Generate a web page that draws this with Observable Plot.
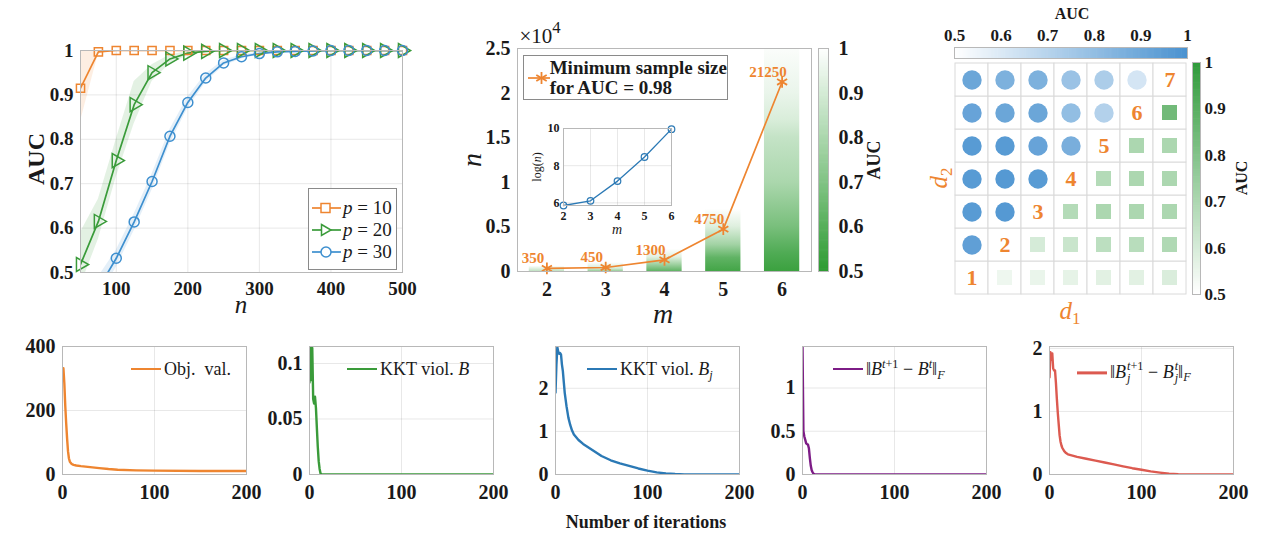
<!DOCTYPE html>
<html>
<head>
<meta charset="utf-8">
<script src="https://cdn.jsdelivr.net/npm/d3@7"></script>
<script src="https://cdn.jsdelivr.net/npm/@observablehq/plot@0.6"></script>
<style>
  body { margin: 0; background: #fff; }
  #fig { position: relative; width: 1270px; height: 544px; overflow: hidden; background: #fff; font-family: "Liberation Serif", "Times New Roman", Times, "DejaVu Serif", serif; color: #1a1a1a; }
  #fig svg { position: absolute; }
  .lbl { position: absolute; white-space: nowrap; font-family: "Liberation Serif", "Times New Roman", Times, "DejaVu Serif", serif; line-height: 1; color: #1a1a1a; }
  .leg { position: absolute; background: #fff; border: 1px solid #8a8a8a; box-sizing: border-box; font-family: "Liberation Serif", "Times New Roman", Times, "DejaVu Serif", serif; color: #1a1a1a; }
  .row { display: flex; align-items: center; white-space: nowrap; }
  .ss { display: inline-flex; flex-direction: column; font-size: 0.68em; line-height: 0.95; vertical-align: 0.6em; margin-left: 1px; }
  sup, sub { font-size: 0.68em; line-height: 0; }
  .sw { display: inline-block; height: 2.6px; margin-right: 3px; }
</style>
</head>
<body>
<div id="fig"></div>
<script>
// ---------- (a) AUC against sample size n ----------
const nGrid  = [50, 75, 100, 125, 150, 175, 200, 225, 250, 275, 300, 325, 350, 375, 400, 425, 450, 475, 500];
const aucP10 = [0.915, 0.997, 1, 1, 1, 1, 1, 1, 1, 1, 1, 1, 1, 1, 1, 1, 1, 1, 1];
const loP10  = [0.84, 0.992, 1, 1, 1, 1, 1, 1, 1, 1, 1, 1, 1, 1, 1, 1, 1, 1, 1];
const hiP10  = [1, 1, 1, 1, 1, 1, 1, 1, 1, 1, 1, 1, 1, 1, 1, 1, 1, 1, 1];
const aucP20 = [0.518, 0.615, 0.752, 0.878, 0.950, 0.981, 0.994, 0.998, 1, 1, 1, 1, 1, 1, 1, 1, 1, 1, 1];
const loP20  = [0.47, 0.575, 0.715, 0.835, 0.93, 0.97, 0.988, 0.996, 1, 1, 1, 1, 1, 1, 1, 1, 1, 1, 1];
const hiP20  = [0.59, 0.665, 0.80, 0.93, 0.968, 0.99, 0.998, 1, 1, 1, 1, 1, 1, 1, 1, 1, 1, 1, 1];
const aucP30 = [0.40, 0.464, 0.532, 0.614, 0.705, 0.807, 0.883, 0.938, 0.972, 0.986, 0.993, 0.997, 0.998, 0.999, 1, 1, 1, 1, 1];
const loP30  = [0.37, 0.44, 0.512, 0.594, 0.686, 0.79, 0.87, 0.928, 0.965, 0.981, 0.99, 0.995, 0.997, 0.998, 1, 1, 1, 1, 1];
const hiP30  = [0.43, 0.49, 0.55, 0.632, 0.722, 0.822, 0.895, 0.947, 0.978, 0.99, 0.996, 0.999, 1, 1, 1, 1, 1, 1, 1];
const aucTicks = [0.5, 0.6, 0.7, 0.8, 0.9, 1];

// ---------- (b) minimum sample size for AUC = 0.98 ----------
const mDims = [2, 3, 4, 5, 6];
const minN  = [350, 450, 1300, 4750, 21250];
// AUC along n inside each bar (n levels and AUC at those levels)
const barN2 = [0, 600],                 barAUC2 = [0.85, 1];
const barN3 = [0, 300, 1000],           barAUC3 = [0.75, 0.9, 1];
const barN4 = [0, 800, 1600, 2500],     barAUC4 = [0.62, 0.78, 0.93, 1];
const barN5 = [0, 1500, 3000, 5000, 7000], barAUC5 = [0.55, 0.62, 0.78, 0.92, 1];
const barN6 = [0, 2000, 5000, 10000, 15000, 17000, 20000, 25000];
const barAUC6 = [0.53, 0.58, 0.68, 0.8, 0.86, 0.91, 0.95, 0.99];
const nTicks = [0, 5000, 10000, 15000, 20000, 25000];

// ---------- (c) AUC over (d1, d2) ----------
const dims = [1, 2, 3, 4, 5, 6, 7];
// rows d2 = 7 (top) ... 1 (bottom); columns d1 = 1 ... 7
const aucUpper = [
  [0.91, 0.86, 0.86, 0.78, 0.73, 0.62, null],
  [0.92, 0.91, 0.91, 0.80, 0.71, null, null],
  [0.96, 0.96, 0.92, 0.87, null, null, null],
  [0.96, 0.97, 0.96, null, null, null, null],
  [0.96, 0.97, null, null, null, null, null],
  [0.94, null, null, null, null, null, null],
  [null, null, null, null, null, null, null]
];
const aucLower = [
  [null, null, null, null, null, null, null],
  [null, null, null, null, null, null, 0.84],
  [null, null, null, null, null, 0.70, 0.70],
  [null, null, null, null, 0.68, 0.70, 0.70],
  [null, null, null, 0.68, 0.70, 0.70, 0.70],
  [null, null, 0.60, 0.63, 0.66, 0.67, 0.69],
  [null, 0.54, 0.55, 0.56, 0.57, 0.57, 0.59]
];

// ---------- (d) convergence over iterations ----------
const objIter = [1, 2, 3, 4, 5, 6, 7, 8, 10, 12, 15, 20, 30, 40, 50, 60, 80, 100, 150, 200];
const objVal  = [332, 285, 215, 160, 112, 72, 50, 40, 33, 30, 28, 26, 23, 20, 17, 15, 13, 12, 11, 11];
const kktBIter = [0, 1, 2, 3, 4, 5, 6, 7, 8, 9, 10, 11, 12, 13, 200];
const kktBVal  = [0.083, 0.115, 0.085, 0.114, 0.068, 0.064, 0.07, 0.06, 0.042, 0.025, 0.012, 0.005, 0.001, 0, 0];
const kktBjIter = [0, 1, 2, 3, 4, 5, 6, 7, 8, 9, 10, 12, 14, 16, 18, 20, 25, 30, 40, 50, 60, 70, 80, 90, 100, 110, 120, 130, 140, 200];
const kktBjVal  = [1.9, 2.55, 2.95, 2.85, 2.8, 2.82, 2.78, 2.55, 2.4, 2.15, 1.9, 1.58, 1.32, 1.15, 1.02, 0.93, 0.8, 0.71, 0.57, 0.43, 0.33, 0.26, 0.2, 0.14, 0.09, 0.05, 0.025, 0.01, 0.002, 0];
const dBIter = [0, 1, 2, 3, 4, 5, 6, 7, 8, 9, 10, 11, 12, 13, 14, 200];
const dBVal  = [1.48, 0.5, 0.44, 0.4, 0.36, 0.35, 0.345, 0.3, 0.19, 0.1, 0.05, 0.025, 0.01, 0.002, 0, 0];
const dBjIter = [0, 1, 2, 3, 4, 5, 6, 7, 8, 9, 10, 11, 12, 13, 14, 16, 18, 20, 25, 30, 40, 50, 60, 70, 80, 90, 100, 110, 120, 130, 140, 150, 200];
const dBjVal  = [1.54, 1.94, 1.82, 1.92, 1.68, 1.65, 1.65, 1.45, 1.2, 0.98, 0.8, 0.62, 0.52, 0.46, 0.42, 0.37, 0.34, 0.32, 0.3, 0.28, 0.25, 0.22, 0.19, 0.16, 0.13, 0.1, 0.075, 0.05, 0.03, 0.012, 0.003, 0, 0];
const iterTicks = [0, 100, 200];

// ---------- colours and type ----------
const ORANGE = "#EE8530", GREEN = "#3A9B3A", BLUE = "#3D8FCF";
const BAR_GREEN = "#2E9B33", MAP_GREEN = "#2F9A3A", MAP_BLUE = "#4A92D0";
const CURVE_BLUE = "#2B79B5", PURPLE = "#7D1C86", RED = "#DC5A50";
const FRAME = "#b8b8b8";
const SERIF = `"Liberation Serif", "Times New Roman", Times, "DejaVu Serif", serif`;

const fig = document.getElementById("fig");
function put(svg, left, top) {
  svg.style.left = left + "px";
  svg.style.top = top + "px";
  fig.appendChild(svg);
  return svg;
}
function label(html, x, y, css = "", rotate = 0) {
  const d = document.createElement("div");
  d.className = "lbl";
  d.innerHTML = html;
  d.style.cssText += css;
  d.style.left = x + "px";
  d.style.top = y + "px";
  d.style.transform = `translate(-50%, -50%) rotate(${rotate}deg)`;
  fig.appendChild(d);
  return d;
}
const axisStyle = (size) => ({
  fontFamily: SERIF, fontSize: size + "px", fontWeight: "bold",
  color: "#1a1a1a", background: "transparent", overflow: "visible"
});

// ===== (a) =====
const seriesA = [
  {name: "10", auc: aucP10, lo: loP10, hi: hiP10, color: ORANGE, symbol: "square", rotate: 0, r: 4.6},
  {name: "20", auc: aucP20, lo: loP20, hi: hiP20, color: GREEN, symbol: "triangle", rotate: 90, r: 5.2},
  {name: "30", auc: aucP30, lo: loP30, hi: hiP30, color: BLUE, symbol: "circle", rotate: 0, r: 5}
].map(s => ({...s, rows: nGrid.map((n, i) => ({n, v: s.auc[i], lo: s.lo[i], hi: s.hi[i]}))}));

put(Plot.plot({
  width: 420, height: 330, marginLeft: 80, marginRight: 18, marginTop: 50, marginBottom: 58,
  style: axisStyle(19),
  x: {domain: [50, 500], ticks: [100, 200, 300, 400, 500], tickFormat: String, grid: true, tickSize: 0, tickPadding: 9, label: null},
  y: {domain: [0.5, 1], ticks: aucTicks, tickFormat: String, grid: true, tickSize: 0, tickPadding: 7, label: null},
  marks: [
    ...seriesA.map(s => Plot.areaY(s.rows, {x: "n", y1: "lo", y2: "hi", fill: s.color, fillOpacity: 0.14, clip: true})),
    ...seriesA.map(s => Plot.line(s.rows, {x: "n", y: "v", stroke: s.color, strokeWidth: 1.7, clip: true})),
    ...seriesA.map(s => Plot.dot(s.rows.filter(d => d.v >= 0.5), {x: "n", y: "v", symbol: s.symbol, rotate: s.rotate, r: s.r, stroke: s.color, strokeWidth: 1.5, fill: "none"})),
    Plot.frame({stroke: FRAME})
  ]
}), 0, 0);

label("AUC", 36, 159, "font-size:24px;font-weight:bold;", -90);
label("<i>n</i>", 241, 304, "font-size:25px;");

const legA = document.createElement("div");
legA.className = "leg";
legA.style.cssText += "left:308px;top:188px;width:89px;height:82px;padding-top:8px;font-size:19px;";
legA.innerHTML = seriesA.map(s => {
  const mk = s.symbol === "square"
    ? `<rect x="10" y="5.5" width="9" height="9" fill="white" stroke="${s.color}" stroke-width="1.5"/>`
    : s.symbol === "triangle"
      ? `<path d="M10.5,4.5 L20,10 L10.5,15.5 Z" fill="white" stroke="${s.color}" stroke-width="1.5"/>`
      : `<circle cx="15" cy="10" r="5" fill="white" stroke="${s.color}" stroke-width="1.5"/>`;
  return `<div class="row" style="height:22px;"><svg width="32" height="20" style="position:static;margin-left:2px;"><line x1="1" x2="30" y1="10" y2="10" stroke="${s.color}" stroke-width="1.7"/>${mk}</svg><span><i>p</i> = ${s.name}</span></div>`;
}).join("");
fig.appendChild(legA);

// ===== (b) =====
const barN = [barN2, barN3, barN4, barN5, barN6];
const barAUC = [barAUC2, barAUC3, barAUC4, barAUC5, barAUC6];
const rampB = Plot.scale({color: {type: "linear", domain: [0.5, 1], range: [BAR_GREEN, "white"]}});
const bars = mDims.map((m, i) => ({m, top: barN[i][barN[i].length - 1]}));
const pointsB = mDims.map((m, i) => ({m, n: minN[i]}));

const plotB = Plot.plot({
  width: 470, height: 330, marginLeft: 87, marginRight: 89, marginTop: 48, marginBottom: 59,
  style: axisStyle(20),
  x: {domain: [1.5, 6.5], ticks: mDims, tickFormat: String, tickSize: 0, tickPadding: 10, label: null},
  y: {domain: [0, 25000], ticks: nTicks, tickFormat: d => String(d / 1e4), tickSize: 0, tickPadding: 7, label: null},
  marks: [
    Plot.rect(bars, {x1: d => d.m - 0.3, x2: d => d.m + 0.3, y1: 0, y2: "top", fill: d => `url(#auc-bar-${d.m})`}),
    Plot.line(pointsB, {x: "m", y: "n", stroke: ORANGE, strokeWidth: 1.7}),
    Plot.dot(pointsB, {x: "m", y: "n", symbol: "asterisk", r: 5.5, stroke: ORANGE, strokeWidth: 1.8}),
    Plot.text(pointsB, {x: "m", y: "n", text: d => String(d.n), dx: -14, dy: -10, fill: ORANGE, fontSize: 15, fontWeight: "bold"}),
    Plot.frame({stroke: FRAME})
  ]
});
const defsB = d3.select(plotB).insert("defs", ":first-child");
mDims.forEach((m, i) => {
  const top = barN[i][barN[i].length - 1];
  const g = defsB.append("linearGradient").attr("id", `auc-bar-${m}`)
    .attr("x1", 0).attr("y1", 1).attr("x2", 0).attr("y2", 0);
  barN[i].forEach((n, j) => g.append("stop").attr("offset", n / top).attr("stop-color", rampB.apply(barAUC[i][j])));
});
put(plotB, 430, 0);

label("×10<sup style='vertical-align:0.55em;font-size:0.8em'>4</sup>", 540, 36, "font-size:21px;");
label("<i>n</i>", 472, 160, "font-size:28px;", -90);
label("<i>m</i>", 663, 314, "font-size:28px;");

// colour bar for (b)
const rampSteps = d3.range(0.5, 1, 0.0025);
put(Plot.plot({
  width: 90, height: 330, marginLeft: 10, marginRight: 70, marginTop: 48, marginBottom: 59,
  style: axisStyle(20),
  x: {domain: [0, 1], axis: null},
  y: {domain: [0.5, 1], axis: "right", ticks: aucTicks, tickFormat: String, tickSize: 0, tickPadding: 10, label: null},
  color: {type: "linear", domain: [0.5, 1], range: [BAR_GREEN, "white"]},
  marks: [
    Plot.rect(rampSteps, {x1: 0, x2: 1, y1: d => d, y2: d => Math.min(1, d + 0.004), fill: d => d}),
    Plot.frame({stroke: FRAME})
  ]
}), 808, 0);
label("AUC", 874, 160, "font-size:18px;font-weight:bold;", -90);

// legend for (b)
const legB = document.createElement("div");
legB.className = "leg";
legB.style.cssText += "left:523px;top:55px;width:205px;height:45px;font-size:19px;font-weight:bold;";
legB.innerHTML = `<div class="row" style="height:100%;">
  <svg width="30" height="20" style="position:static;margin-left:3px;"><line x1="1" x2="28" y1="10" y2="10" stroke="${ORANGE}" stroke-width="1.7"/>
  <g stroke="${ORANGE}" stroke-width="1.8"><line x1="14.5" x2="14.5" y1="4" y2="16"/><line x1="9.3" x2="19.7" y1="7" y2="13"/><line x1="9.3" x2="19.7" y1="13" y2="7"/></g></svg>
  <div style="line-height:20px;">Minimum sample size<br>for AUC = 0.98</div></div>`;
fig.appendChild(legB);

// inset: log(n) against m
const insetRows = mDims.map((m, i) => ({m, ln: Math.log(minN[i])}));
put(Plot.plot({
  width: 148, height: 118, marginLeft: 30, marginRight: 10, marginTop: 10, marginBottom: 31,
  style: {...axisStyle(12), background: "white"},
  x: {domain: [2, 6], ticks: mDims, tickFormat: String, grid: true, tickSize: 0, tickPadding: 6, label: null},
  y: {domain: [Math.log(minN[0]), 10], ticks: [6, 8, 10], tickFormat: String, grid: true, tickSize: 0, tickPadding: 4, label: null},
  marks: [
    Plot.line(insetRows, {x: "m", y: "ln", stroke: CURVE_BLUE, strokeWidth: 1.3}),
    Plot.dot(insetRows, {x: "m", y: "ln", r: 3.3, stroke: CURVE_BLUE, strokeWidth: 1.2, fill: "none"}),
    Plot.frame({stroke: FRAME})
  ]
}), 533, 118);
label("log(<i>n</i>)", 537, 167, "font-size:12px;", -90);
label("<i>m</i>", 617, 230, "font-size:14px;");

// ===== (c) =====
const cellsAll = dims.flatMap(d2 => dims.map(d1 => ({d1, d2})));
const fromMatrix = (mat) => mat.flatMap((row, r) => row.map((v, c) => ({d1: dims[c], d2: 7 - r, auc: v}))).filter(d => d.auc != null);
const circles = fromMatrix(aucUpper);
const squares = fromMatrix(aucLower);
const gridScales = {
  x: {type: "band", domain: dims, padding: 0, axis: null},
  y: {type: "band", domain: dims.slice().reverse(), padding: 0, axis: null}
};
const boxC = {width: 350, height: 330, marginLeft: 34, marginRight: 83, marginTop: 62, marginBottom: 36};

put(Plot.plot({
  ...boxC, ...gridScales,
  style: axisStyle(20),
  color: {type: "linear", domain: [0.5, 1], range: ["white", MAP_GREEN]},
  marks: [
    Plot.cell(cellsAll, {x: "d1", y: "d2", fill: "white", stroke: "#dadada", strokeWidth: 1}),
    Plot.cell(squares, {x: "d1", y: "d2", fill: "auc", inset: 9})
  ]
}), 920, 0);
put(Plot.plot({
  ...boxC, ...gridScales,
  style: axisStyle(20),
  color: {type: "linear", domain: [0.5, 1], range: ["white", MAP_BLUE]},
  marks: [
    Plot.dot(circles, {x: "d1", y: "d2", r: 9.7, fill: "auc"}),
    Plot.text(dims, {x: d => d, y: d => d, text: d => String(d), fill: ORANGE, fontSize: 22, fontWeight: "bold"})
  ]
}), 920, 0);

// blue colour bar above the grid
put(Plot.plot({
  width: 350, height: 62, marginLeft: 34, marginRight: 83, marginTop: 47, marginBottom: 4,
  style: axisStyle(17),
  x: {domain: [0.5, 1], axis: "top", ticks: aucTicks, tickFormat: String, tickSize: 0, tickPadding: 7, label: null},
  y: {domain: [0, 1], axis: null},
  color: {type: "linear", domain: [0.5, 1], range: ["white", MAP_BLUE]},
  marks: [
    Plot.rect(rampSteps, {x1: d => d, x2: d => Math.min(1, d + 0.004), y1: 0, y2: 1, fill: d => d}),
    Plot.frame({stroke: FRAME})
  ]
}), 920, 0);
label("AUC", 1072, 14, "font-size:16px;font-weight:bold;");

// green colour bar at the right of the grid
put(Plot.plot({
  width: 88, height: 330, marginLeft: 10, marginRight: 70, marginTop: 62, marginBottom: 36,
  style: axisStyle(17),
  x: {domain: [0, 1], axis: null},
  y: {domain: [0.5, 1], axis: "right", ticks: aucTicks, tickFormat: String, tickSize: 0, tickPadding: 4, label: null},
  color: {type: "linear", domain: [0.5, 1], range: ["white", MAP_GREEN]},
  marks: [
    Plot.rect(rampSteps, {x1: 0, x2: 1, y1: d => d, y2: d => Math.min(1, d + 0.004), fill: d => d}),
    Plot.frame({stroke: FRAME})
  ]
}), 1182, 0);
label("AUC", 1242, 178, "font-size:16px;font-weight:bold;", -90);
label(`<i>d</i><sub style="vertical-align:-0.3em">2</sub>`, 938, 178, `font-size:25px;color:${ORANGE};`, -90);
label(`<i>d</i><sub style="vertical-align:-0.3em">1</sub>`, 1070, 310, `font-size:25px;color:${ORANGE};`);

// ===== (d) convergence panels =====
const panels = [
  {iter: objIter, val: objVal, color: ORANGE, domain: [0, 400], ticks: [0, 200, 400], left: 62},
  {iter: kktBIter, val: kktBVal, color: GREEN, domain: [0, 0.1153], ticks: [0, 0.05, 0.1], left: 309},
  {iter: kktBjIter, val: kktBjVal, color: CURVE_BLUE, domain: [0, 2.97], ticks: [0, 1, 2], left: 555},
  {iter: dBIter, val: dBVal, color: PURPLE, domain: [0, 1.48], ticks: [0, 0.5, 1], left: 802},
  {iter: dBjIter, val: dBjVal, color: RED, domain: [0, 2.03], ticks: [0, 1, 2], left: 1049}
];
panels.forEach(p => {
  const rows = p.iter.map((t, i) => ({t, v: p.val[i]}));
  put(Plot.plot({
    width: 264, height: 214, marginLeft: 60, marginRight: 20, marginTop: 16, marginBottom: 70,
    style: axisStyle(20),
    x: {domain: [0, 200], ticks: iterTicks, tickFormat: String, grid: true, tickSize: 0, tickPadding: 10, label: null},
    y: {domain: p.domain, ticks: p.ticks, tickFormat: String, grid: true, tickSize: 0, tickPadding: 7, label: null},
    marks: [
      Plot.line(rows, {x: "t", y: "v", stroke: p.color, strokeWidth: 2.4, clip: true}),
      Plot.frame({stroke: FRAME})
    ]
  }), p.left - 60, 330);
});

const legendTexts = [
  {html: "Obj.&nbsp; val.", color: ORANGE, x: 131, y: 369},
  {html: "KKT viol. <i>B</i>", color: GREEN, x: 347, y: 369},
  {html: "KKT viol. <i>B</i><sub style='vertical-align:-0.35em'><i>j</i></sub>", color: CURVE_BLUE, x: 587, y: 369},
  {html: "‖<i>B</i><sup style='vertical-align:0.55em'><i>t</i>+1</sup> − <i>B</i><sup style='vertical-align:0.55em'><i>t</i></sup>‖<sub style='vertical-align:-0.3em'><i>F</i></sub>", color: PURPLE, x: 833, y: 369},
  {html: "‖<i>B</i><span class='ss'><span><i>t</i>+1</span><span><i>j</i></span></span> − <i>B</i><span class='ss'><span><i>t</i></span><span><i>j</i></span></span>‖<sub style='vertical-align:-0.3em'><i>F</i></sub>", color: RED, x: 1077, y: 373}
];
legendTexts.forEach(l => {
  const d = document.createElement("div");
  d.className = "lbl";
  d.style.cssText += `left:${l.x}px;top:${l.y}px;transform:translateY(-50%);font-size:18px;display:flex;align-items:center;`;
  d.innerHTML = `<span class="sw" style="width:30px;background:${l.color};"></span><span>${l.html}</span>`;
  fig.appendChild(d);
});
label("Number of iterations", 646, 522, "font-size:18px;font-weight:bold;");
</script>
</body>
</html>
